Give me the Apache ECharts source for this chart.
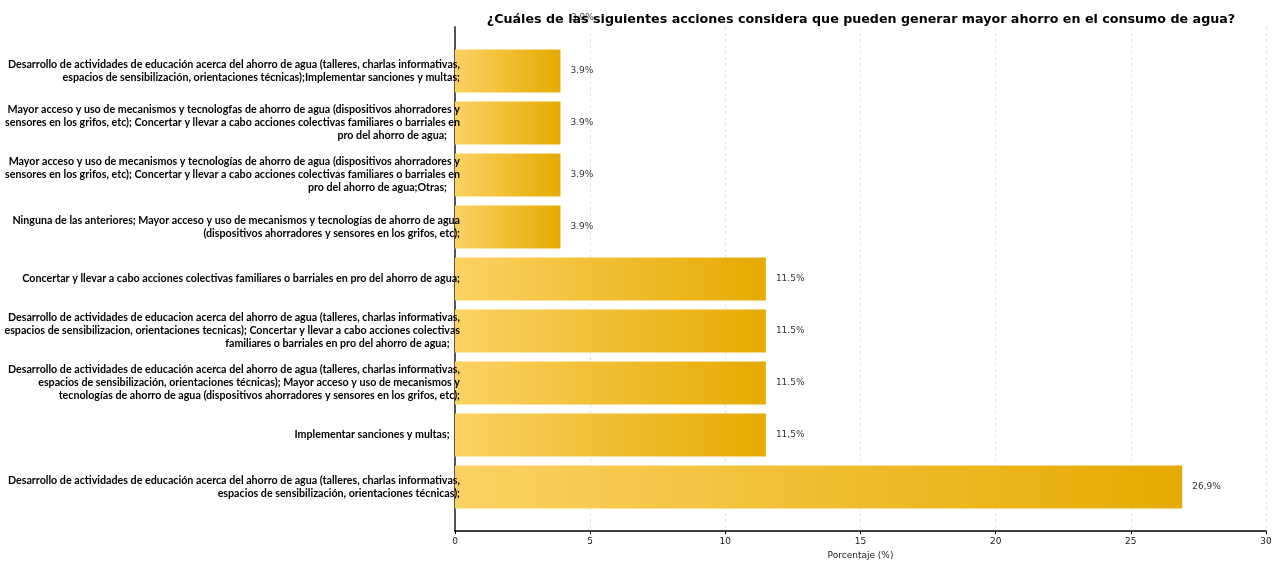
<!DOCTYPE html>
<html>
<head>
<meta charset="utf-8">
<script src="https://cdn.jsdelivr.net/npm/echarts@6/dist/echarts.min.js"></script>
<style>html,body{margin:0;padding:0;background:#fff;}#c{width:1282px;height:561px;}</style>
</head>
<body>
<div id="c"></div>
<script>
var titleText = '¿Cuáles de las siguientes acciones considera que pueden generar mayor ahorro en el consumo de agua?';
var categories = [
  'Desarrollo de actividades de educación acerca del ahorro de agua (talleres, charlas informativas,\nespacios de sensibilización, orientaciones técnicas);Implementar sanciones y multas;',
  'Mayor acceso y uso de mecanismos y tecnologfas de ahorro de agua (dispositivos ahorradores y\nsensores en los grifos, etc); Concertar y llevar a cabo acciones colectivas familiares o barriales en\npro del ahorro de agua;\u00a0\u00a0\u00a0\u00a0\u00a0',
  'Mayor acceso y uso de mecanismos y tecnologías de ahorro de agua (dispositivos ahorradores y\nsensores en los grifos, etc); Concertar y llevar a cabo acciones colectivas familiares o barriales en\npro del ahorro de agua;Otras;\u00a0\u00a0\u00a0\u00a0\u00a0',
  'Ninguna de las anteriores; Mayor acceso y uso de mecanismos y tecnologías de ahorro de agua\n(dispositivos ahorradores y sensores en los grifos, etc);',
  'Concertar y llevar a cabo acciones colectivas familiares o barriales en pro del ahorro de agua;',
  'Desarrollo de actividades de educacion acerca del ahorro de agua (talleres, charlas informativas,\nespacios de sensibilizacion, orientaciones tecnicas); Concertar y llevar a cabo acciones colectivas\nfamiliares o barriales en pro del ahorro de agua;\u00a0\u00a0\u00a0\u00a0',
  'Desarrollo de actividades de educación acerca del ahorro de agua (talleres, charlas informativas,\nespacios de sensibilización, orientaciones técnicas); Mayor acceso y uso de mecanismos y\ntecnologías de ahorro de agua (dispositivos ahorradores y sensores en los grifos, etc);',
  'Implementar sanciones y multas;\u00a0\u00a0\u00a0\u00a0',
  'Desarrollo de actividades de educación acerca del ahorro de agua (talleres, charlas informativas,\nespacios de sensibilización, orientaciones técnicas);'
];
var values = [3.9, 3.9, 3.9, 3.9, 11.5, 11.5, 11.5, 11.5, 26.9];
var valueLabels = ['3.9%', '3.9%', '3.9%', '3.9%', '11.5%', '11.5%', '11.5%', '11,5%', '26,9%'];
var strayLabel = '3.9%';
var xTicks = [0, 5, 10, 15, 20, 25, 30];
var xAxisName = 'Porcentaje (%)';

var chart = echarts.init(document.getElementById('c'), null, {renderer: 'canvas'});
var option = {
  animation: false,
  backgroundColor: '#ffffff',
  title: {
    text: titleText,
    left: 856, top: 8,
    textAlign: 'center',
    z: 10,
    textStyle: {fontFamily: 'DejaVu Sans', fontWeight: 'bold', fontSize: 12.7, color: '#000'}
  },
  graphic: [{
    type: 'text', left: 571, top: 13, z: 1, zlevel: 0,
    style: {text: strayLabel, font: '9px "DejaVu Sans"', fill: '#444'}
  }],
  grid: [
    {left: 455, right: 16, top: 27, bottom: 30, containLabel: false, outerBoundsMode: 'none'},
    {left: 455, right: 16, top: 45, bottom: 48, containLabel: false, outerBoundsMode: 'none'}
  ],
  xAxis: [
    {
      type: 'value', gridIndex: 0, min: xTicks[0], max: xTicks[xTicks.length - 1], interval: 5,
      axisLine: {show: true, lineStyle: {color: '#000', width: 1.5}},
      axisTick: {show: true, length: 3, lineStyle: {color: '#000'}},
      axisLabel: {fontFamily: 'DejaVu Sans', fontSize: 9, color: '#222', margin: 6},
      splitLine: {show: true, lineStyle: {type: [3, 3], color: '#e4e4e4', width: 1}},
      name: xAxisName, nameLocation: 'middle', nameGap: 20,
      nameTextStyle: {fontFamily: 'DejaVu Sans', fontSize: 9, color: '#222'}
    },
    {type: 'value', gridIndex: 1, min: 0, max: 30, show: false}
  ],
  yAxis: [
    {
      type: 'category', gridIndex: 0, data: categories, inverse: true,
      axisLine: {show: true, lineStyle: {color: '#555', width: 2}},
      axisTick: {show: false}, axisLabel: {show: false}, splitLine: {show: false}
    },
    {
      type: 'category', gridIndex: 1, data: categories, inverse: true, z: 20,
      axisLine: {show: false}, axisTick: {show: false}, splitLine: {show: false},
      axisLabel: {
        fontFamily: 'Lato', fontWeight: 'bold', fontSize: 10.7, lineHeight: 13,
        color: '#000', margin: -5, align: 'right'
      }
    }
  ],
  series: [{
    type: 'bar', xAxisIndex: 1, yAxisIndex: 1, barWidth: 43, z: 2,
    data: values,
    itemStyle: {
      color: new echarts.graphic.LinearGradient(0, 0, 1, 0, [
        {offset: 0, color: '#FBD263'},
        {offset: 1, color: '#E6AA00'}
      ])
    },
    label: {
      show: true, position: 'right', distance: 10,
      fontFamily: 'DejaVu Sans', fontSize: 9, color: '#333',
      formatter: function (p) { return valueLabels[p.dataIndex]; }
    }
  }]
};
chart.setOption(option);
</script>
</body>
</html>
